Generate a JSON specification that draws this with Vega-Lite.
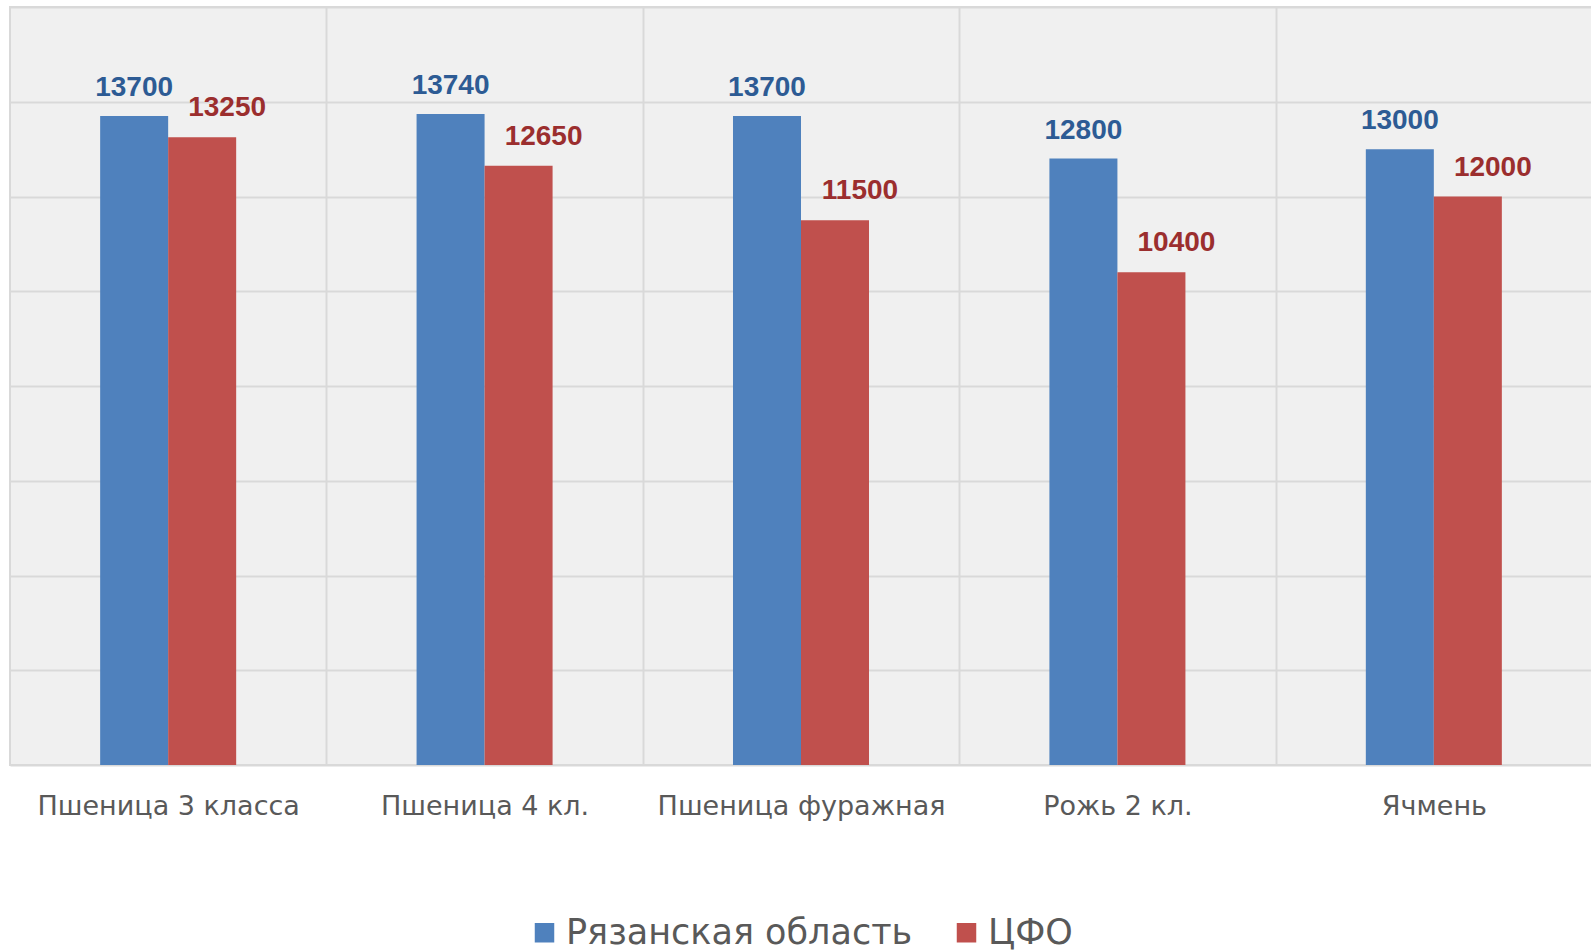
{
  "$schema": "https://vega.github.io/schema/vega-lite/v6.json",
  "width": 1582,
  "height": 758,
  "autosize": {"type": "none"},
  "padding": {"left": 10, "top": 7, "right": 0, "bottom": 186},
  "background": "white",
  "config": {
    "view": {"fill": "#f0f0f0", "stroke": "#d9d9d9", "strokeWidth": 2},
    "font": "DejaVu Sans"
  },
  "data": {
    "values": [
      {"crop": "Пшеница 3 класса", "series": "Рязанская область", "value": 13700},
      {"crop": "Пшеница 3 класса", "series": "ЦФО", "value": 13250},
      {"crop": "Пшеница 4 кл.", "series": "Рязанская область", "value": 13740},
      {"crop": "Пшеница 4 кл.", "series": "ЦФО", "value": 12650},
      {"crop": "Пшеница фуражная", "series": "Рязанская область", "value": 13700},
      {"crop": "Пшеница фуражная", "series": "ЦФО", "value": 11500},
      {"crop": "Рожь 2 кл.", "series": "Рязанская область", "value": 12800},
      {"crop": "Рожь 2 кл.", "series": "ЦФО", "value": 10400},
      {"crop": "Ячмень", "series": "Рязанская область", "value": 13000},
      {"crop": "Ячмень", "series": "ЦФО", "value": 12000}
    ]
  },
  "encoding": {
    "x": {
      "field": "crop", "type": "nominal", "sort": null,
      "scale": {"paddingInner": 0.1403, "paddingOuter": 0.07},
      "axis": {
        "title": null, "labelAngle": 0, "domain": false, "ticks": false,
        "bandPosition": 1, "tickExtra": false, "tickOffset": 22.2, "labelOffset": -22.2,
        "grid": true, "gridColor": "#d9d9d9", "gridWidth": 2,
        "labelFontSize": 27, "labelColor": "#595959", "labelPadding": 28,
        "labelFont": "DejaVu Sans", "labelLimit": 0
      }
    },
    "xOffset": {
      "field": "series", "type": "nominal", "sort": ["Рязанская область", "ЦФО"],
      "scale": {"paddingInner": 0, "paddingOuter": 1}
    },
    "y": {
      "field": "value", "type": "quantitative",
      "scale": {"domain": [0, 16000], "nice": false},
      "axis": {
        "title": null, "labels": false, "ticks": false, "domain": false,
        "values": [0, 2000, 4000, 6000, 8000, 10000, 12000, 14000, 16000],
        "grid": true, "gridColor": "#d9d9d9", "gridWidth": 2
      }
    }
  },
  "layer": [
    {
      "mark": {"type": "bar"},
      "encoding": {
        "color": {
          "field": "series", "type": "nominal",
          "scale": {"domain": ["Рязанская область", "ЦФО"], "range": ["#4F81BD", "#C0504D"]},
          "legend": {
            "title": null, "orient": "none", "legendX": 517, "legendY": 908,
            "direction": "horizontal",
            "symbolType": "square", "symbolSize": 380, "symbolStrokeWidth": 0,
            "labelFontSize": 35, "labelColor": "#595959", "labelFont": "DejaVu Sans",
            "labelLimit": 0, "columnPadding": 36, "labelOffset": 4
          }
        }
      }
    },
    {
      "transform": [{"filter": "datum.series === 'Рязанская область'"}],
      "mark": {"type": "text", "baseline": "alphabetic", "dy": -20, "fontSize": 28, "fontWeight": "bold", "font": "Liberation Sans", "color": "#2D5B94"},
      "encoding": {"text": {"field": "value", "type": "quantitative", "format": "d"}}
    },
    {
      "transform": [{"filter": "datum.series === 'ЦФО'"}],
      "mark": {"type": "text", "baseline": "alphabetic", "dy": -21, "dx": 25, "fontSize": 28, "fontWeight": "bold", "font": "Liberation Sans", "color": "#9B2E2E"},
      "encoding": {"text": {"field": "value", "type": "quantitative", "format": "d"}}
    }
  ]
}
